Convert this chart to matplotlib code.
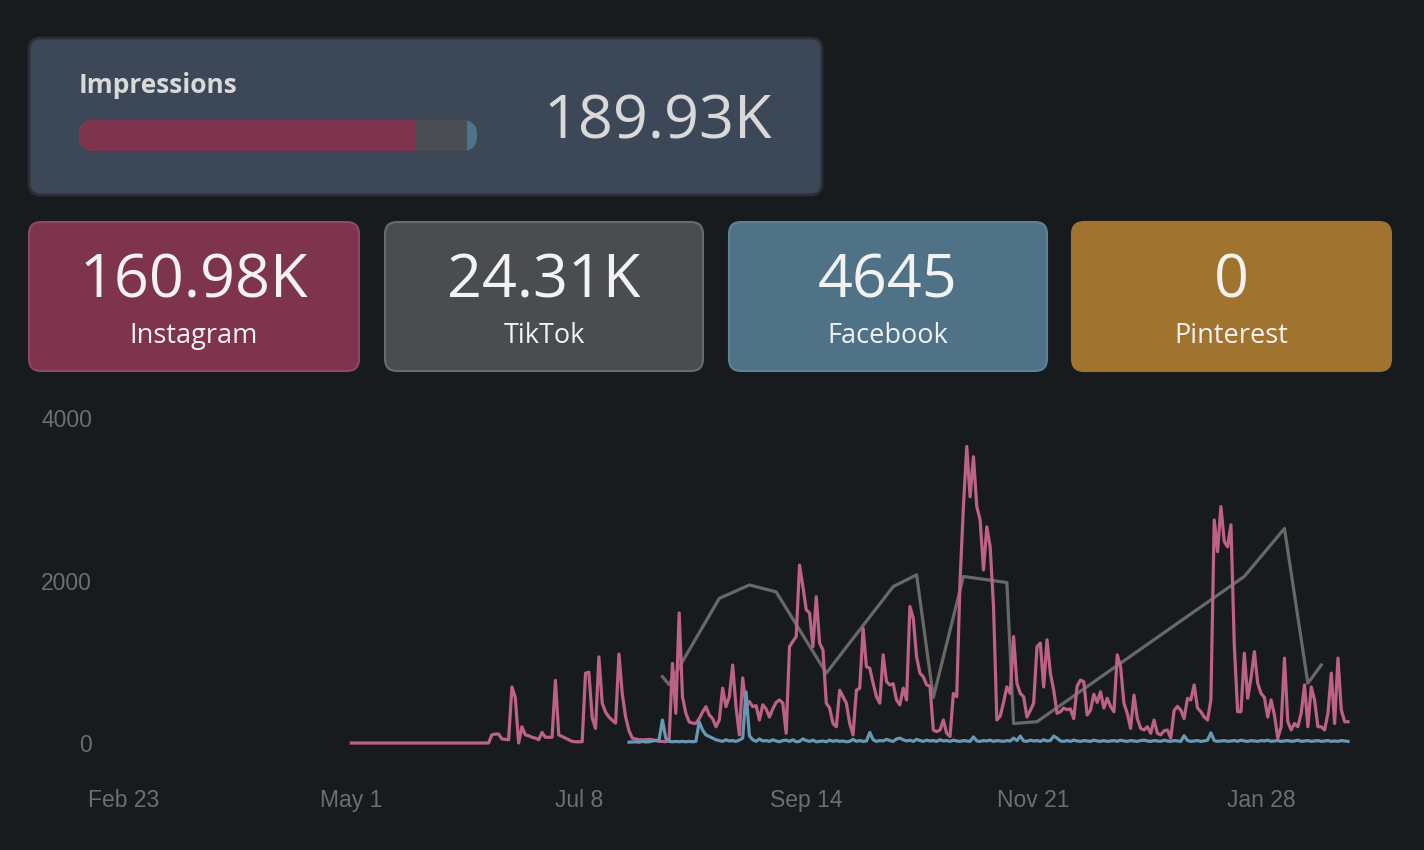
import numpy as np
import matplotlib
matplotlib.use("Agg")
import matplotlib.pyplot as plt
from matplotlib.patches import FancyBboxPatch, Rectangle

# ---------------- data ----------------
card_labels = ["Instagram", "TikTok", "Facebook", "Pinterest"]
card_values = ["160.98K", "24.31K", "4645", "0"]
total_label = "Impressions"
total_value = "189.93K"
share_values = [160980, 24310, 4645]  # progress bar shares

x_ticks = ["2024-02-23", "2024-05-01", "2024-07-08", "2024-09-14", "2024-11-21", "2025-01-28"]
x_tick_labels = ["Feb 23", "May 1", "Jul 8", "Sep 14", "Nov 21", "Jan 28"]
y_ticks = [0, 2000, 4000]

instagram_start = "2024-05-01"
instagram = [
    0, 0, 0, 0, 0, 0, 0, 0, 0, 0, 0, 0, 0, 0, 0, 0, 0, 0, 0, 0, 0,
    0, 0, 0, 0, 0, 0, 0, 0, 0, 0, 0, 0, 0, 0, 0, 0, 0, 0, 0, 0, 0,
    100, 110, 110, 50, 45, 40, 690, 560, 0, 200, 100, 90, 70, 60, 40, 130, 70, 70,
    70, 770, 100, 80, 60, 40, 20, 15, 15, 15, 860, 870, 310, 180, 1060, 490, 380,
    320, 280, 245, 1095, 600, 320, 150, 60, 50, 40, 40, 40, 45, 40, 30, 20, 20, 15,
    40, 980, 365, 1600, 570, 365, 260, 245, 240, 300, 380, 447, 345, 300, 200, 283,
    675, 447, 570, 960, 447, 100, 800, 447, 510, 447, 460, 283, 470, 420, 320, 420,
    500, 530, 490, 120, 1185, 1250, 1310, 2190, 1925, 1640, 1600, 1185, 1800, 1230,
    1145, 490, 430, 240, 200, 650, 570, 490, 240, 100, 650, 675, 1410, 940, 920, 735,
    570, 490, 1085, 755, 715, 730, 530, 470, 675, 530, 1680, 1535, 1060, 860, 815,
    715, 700, 160, 140, 160, 283, 120, 80, 610, 570, 2000, 2910, 3650, 3030, 3525,
    2910, 2745, 2130, 2660, 2415, 1680, 283, 330, 500, 690, 610, 1310, 735, 610, 570,
    320, 400, 490, 1185, 1230, 690, 1270, 860, 650, 365, 385, 430, 410, 420, 300, 700,
    775, 755, 345, 405, 600, 500, 630, 430, 550, 450, 385, 1085, 940, 490, 365, 180,
    590, 300, 180, 160, 200, 120, 283, 120, 100, 150, 160, 60, 400, 450, 405, 300,
    550, 530, 715, 430, 385, 320,
    283, 530, 2745, 2355, 2910, 2480, 2415, 2685, 1205, 385, 385, 1105, 550, 800,
    1125, 735, 610, 560, 320, 530, 345, 60, 200, 1045, 262, 160, 240, 200, 365, 715,
    200, 690, 530, 200, 200, 160, 365, 860, 240, 1045, 405, 262, 262,
]

facebook_start = "2024-07-23"
facebook = [
    10, 12, 15, 10, 20, 12, 15, 25, 30, 40, 283, 60, 20, 15, 20, 15, 20, 15, 20,
    15, 20, 260, 160, 100, 80, 60, 40, 30, 20, 40, 25, 30, 20, 35, 60, 630, 90, 40,
    20, 50, 25, 30, 20, 40, 25, 15, 30, 35, 20, 40, 15, 20, 50, 30, 20, 35, 15, 20,
    25, 15, 35, 20, 30, 20, 25, 15, 20, 45, 20, 30, 20, 25, 130, 40, 20, 30, 25, 45,
    30, 20, 50, 60, 40, 25, 35, 20, 45, 30, 20, 35, 25, 30, 20, 40, 25, 30, 20, 35,
    25, 20, 30, 25, 20, 75, 25, 20, 30, 25, 35, 20, 30, 25, 20, 30, 25, 60, 30, 85,
    25, 20, 35, 25, 30, 20, 40, 25, 30, 85, 60, 25, 20, 30, 20, 35, 25, 20, 30, 25,
    20, 35, 25, 20, 30, 20, 25, 30, 20, 35, 25, 20, 30, 25, 20, 30, 35, 25, 20, 30,
    25, 20, 35, 25, 20, 30, 25, 20, 90, 30, 20, 25, 30, 20, 25, 35, 125, 30, 20, 25,
    30, 20, 25, 30, 20, 35, 25, 20, 30, 25, 20, 30, 25, 35, 20, 25, 30, 20, 25, 30,
    20, 25, 35, 20, 25, 30, 20, 25, 30, 20, 25, 30, 20, 25, 20, 30, 25, 20,
]

tiktok_dates = [
    "2024-08-02", "2024-08-04", "2024-08-19", "2024-08-28", "2024-09-05",
    "2024-09-20", "2024-10-10", "2024-10-17", "2024-10-22", "2024-10-31",
    "2024-11-13", "2024-11-15", "2024-11-22", "2025-01-23", "2025-02-04",
    "2025-02-11", "2025-02-15",
]
tiktok = [815, 720, 1780, 1945, 1860, 860, 1925, 2070, 560, 2050, 1975, 240, 262,
          2050, 2640, 735, 960]

# ---------------- style ----------------
BG = "#181b1e"
C_INSTA = "#bd6187"
C_TIKTOK = "#6a6865"
C_FB = "#6898b3"
TXT = "#d9d9d9"
TICK = "#6e6e6e"
CARD_FONT = ["Open Sans", "DejaVu Sans"]

plt.rcParams["font.family"] = CARD_FONT

fig = plt.figure(figsize=(14.24, 8.5), dpi=100, facecolor=BG)

# overlay in pixel coordinates for cards
ov = fig.add_axes([0, 0, 1, 1])
ov.set_xlim(0, 1424)
ov.set_ylim(850, 0)
ov.axis("off")


def card(x0, y0, x1, y1, fc, ec, r=10, lw=1.5):
    p = FancyBboxPatch((x0, y0), x1 - x0, y1 - y0,
                       boxstyle=f"round,pad=0,rounding_size={r}",
                       fc=fc, ec=ec, lw=lw)
    ov.add_patch(p)


# Impressions card
card(29, 38, 822, 195, "#3c4858", "#2c3036", r=12, lw=2)
ov.text(79, 85, total_label, color=TXT, fontsize=19, fontweight="bold",
        ha="left", va="center")
ov.text(658, 122, total_value, color=TXT, fontsize=44,
        ha="center", va="center")

# progress bar
bx0, bx1, by0, by1 = 79, 477, 120, 151
tot = sum(share_values)
w = bx1 - bx0
e1 = bx0 + w * share_values[0] / tot
e2 = e1 + w * share_values[1] / tot
card(bx0, by0, bx1, by1, "#4f7389", "none", r=15, lw=0)
card(bx0, by0, e1 + 20, by1, "#7f344e", "none", r=15, lw=0)
ov.add_patch(Rectangle((e1, by0), e2 - e1, by1 - by0, fc="#4a4d52", ec="none"))

# platform cards
cards = [
    (29, 359, "#7f344e", "#8f4862"),
    (385, 703, "#4a4d50", "#6a6a6a"),
    (729, 1047, "#4f7287", "#5e8197"),
    (1072, 1391, "#a0742e", "#a0742e"),
]
for (x0, x1, fc, ec), lab, val in zip(cards, card_labels, card_values):
    card(x0, 222, x1, 371, fc, ec, r=12, lw=1.5)
    cx = (x0 + x1) / 2
    ov.text(cx, 281, val, color="#f2f2f2", fontsize=44,
            ha="center", va="center")
    ov.text(cx, 336, lab, color="#f2f2f2", fontsize=19.5, ha="center", va="center")

# ---------------- line chart ----------------
ax = fig.add_axes([124 / 1424, (850 - 743) / 850, (1348 - 124) / 1424, (743 - 418) / 850])
ax.set_facecolor("none")

d_insta = np.datetime64(instagram_start) + np.arange(len(instagram))
d_fb = np.datetime64(facebook_start) + np.arange(len(facebook))
d_tt = np.array(tiktok_dates, dtype="datetime64[D]")

ax.plot(d_tt, tiktok, color=C_TIKTOK, lw=2.3, clip_on=False, zorder=2)
ax.plot(d_insta, instagram, color=C_INSTA, lw=2.3, clip_on=False, zorder=3)
ax.plot(d_fb, facebook, color=C_FB, lw=2.3, clip_on=False, zorder=4)

ax.set_xlim(np.datetime64("2024-02-23"), np.datetime64("2025-02-23"))
ax.set_ylim(0, 4000)
ax.set_xticks(np.array(x_ticks, dtype="datetime64[D]"))
ax.set_xticklabels(x_tick_labels)
ax.set_yticks(y_ticks)
ax.set_yticklabels([str(v) for v in y_ticks])
for s in ax.spines.values():
    s.set_visible(False)
ax.tick_params(axis="both", length=0, colors=TICK, labelsize=16.5)
ax.tick_params(axis="x", pad=33)
ax.tick_params(axis="y", pad=23)
for lbl in ax.get_xticklabels() + ax.get_yticklabels():
    lbl.set_fontfamily(["Liberation Sans", "DejaVu Sans"])

fig.savefig("out.png", dpi=100, facecolor=BG)
